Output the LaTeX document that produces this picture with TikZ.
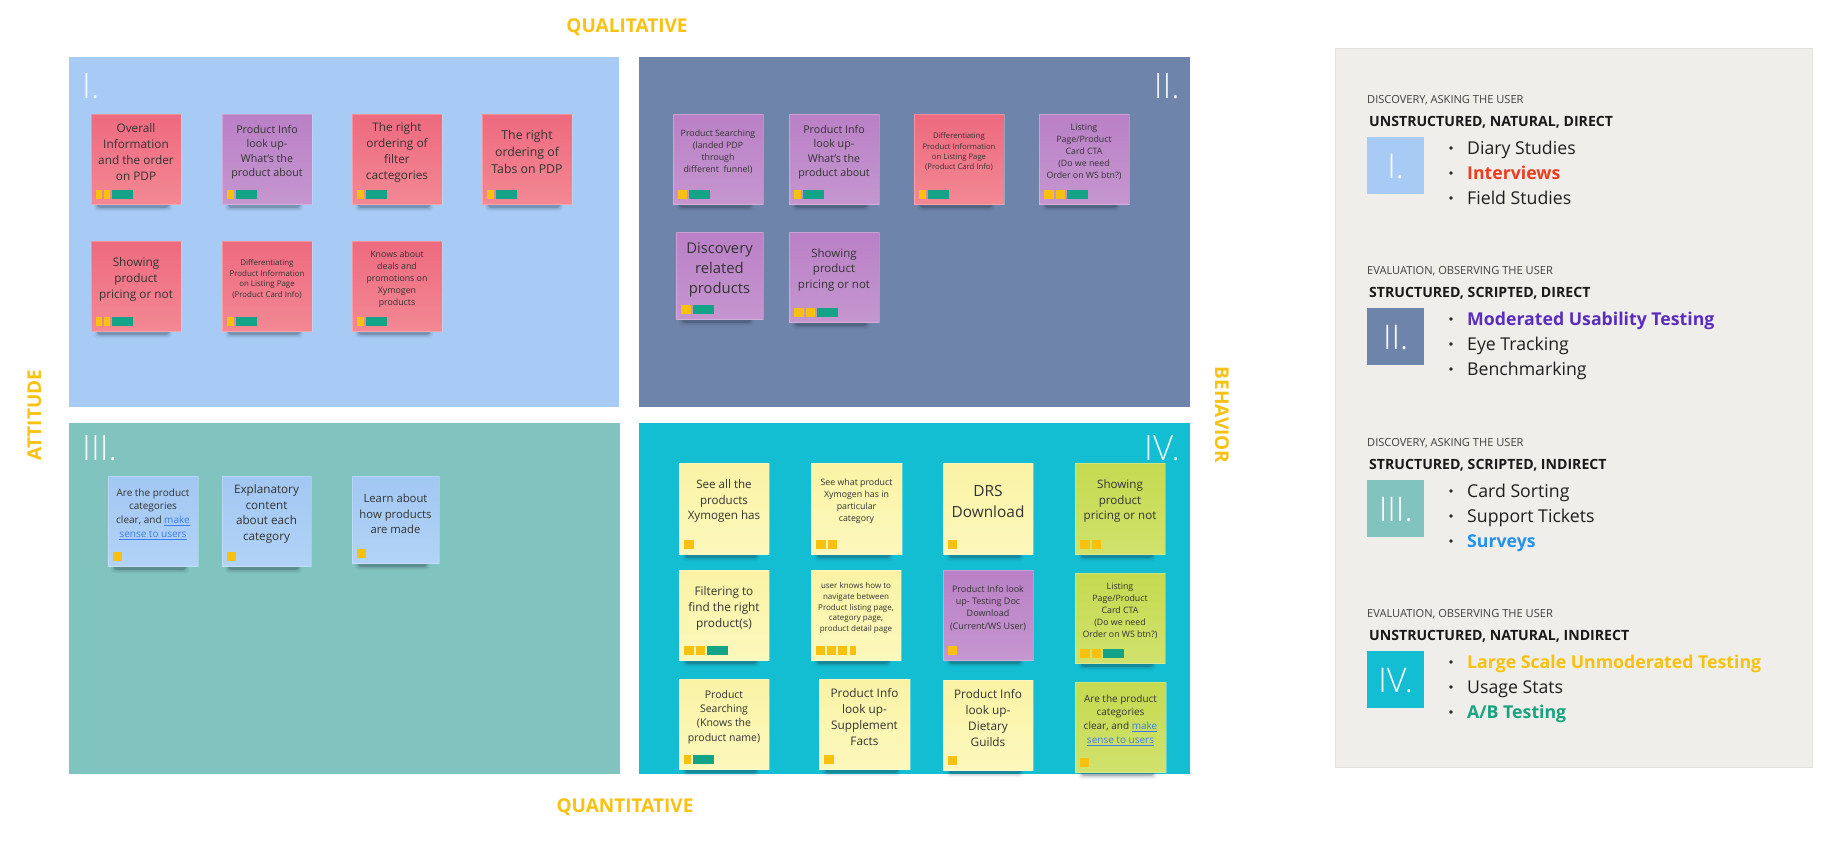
\documentclass[tikz,border=0pt]{standalone}
\usepackage{fontspec}
\setmainfont{Open Sans}
\IfFontExistsTF{Open Sans Light}{\newfontfamily\thinfont{Open Sans Light}}{%
  \IfFontExistsTF{Fira Sans Light}{\newfontfamily\thinfont{Fira Sans Light}}{\newfontfamily\thinfont{Open Sans}}}
\usetikzlibrary{calc}
\definecolor{qone}{HTML}{A7CBF4}
\definecolor{qtwo}{HTML}{6E84AA}
\definecolor{qthree}{HTML}{81C3BE}
\definecolor{qfour}{HTML}{13BED3}
\definecolor{axisyellow}{HTML}{F9C112}
\definecolor{pinktop}{HTML}{EE6A7F}
\definecolor{pinkbot}{HTML}{F38893}
\definecolor{purptop}{HTML}{BA80C6}
\definecolor{purpbot}{HTML}{C596CF}
\definecolor{bluetop}{HTML}{A2C7F2}
\definecolor{bluebot}{HTML}{B2D3F7}
\definecolor{yeltop}{HTML}{FAF3A5}
\definecolor{yelbot}{HTML}{FCF8BC}
\definecolor{grntop}{HTML}{C5DA50}
\definecolor{grnbot}{HTML}{D0E26C}
\definecolor{tagy}{HTML}{F9C10F}
\definecolor{tagg}{HTML}{13A386}
\definecolor{notetext}{HTML}{333333}
\definecolor{linkblue}{HTML}{3F7BF2}
\definecolor{panelc}{HTML}{EFEEEA}
\definecolor{panelline}{HTML}{E2E1DC}
\definecolor{redc}{HTML}{EE3B1F}
\definecolor{purplec}{HTML}{5A2DBF}
\definecolor{bluec}{HTML}{2392EC}
\definecolor{greenc}{HTML}{17A37F}
\definecolor{shadowc}{HTML}{1E2A3A}
\newcommand\lnk[1]{\textcolor{linkblue}{\underline{#1}}}
\newcommand\sticky[9]{%
  \foreach \shs/\sho in {0/0.22,1.5/0.11,3/0.05}{%
    \fill[shadowc, opacity=\sho, rounded corners=3] ({#2+6-\shs},{#3+#5-3}) rectangle ({#2+#4-12+\shs},{#3+#5+4+\shs});}
  \node[stickybox,#6,minimum width=#4pt,minimum height=#5pt] (#1) at (#2,#3) {};
  \node[stickytext,font=\fontsize{#7}{#8}\selectfont] (#1t) at ($(#1.north)+(0,38)$) {#9};
}
\newcommand\tagrow[2]{%
  \gdef\tagx{5}%
  \foreach \tagw/\tagcol in {#2}{%
    \fill[\tagcol] ($(#1.south west)+(\tagx,-5)$) rectangle ++(\tagw,-9);
    \pgfmathsetmacro\tmpx{\tagx+\tagw+2.2}%
    \global\let\tagx\tmpx
  }%
}
\newcommand\keysec[6]{%
  \node[smallhead] (#1s) at (1367,{103+#2}) {#3};
  \node[boldhead] (#1h) at (1369,{126+#2}) {#4};
  \node[keybox, fill=#5] (#1k) at (1367,{137+#2}) {};
  \node[keynum] (#1n) at ($(#1k.north)+(0,41)$) {#6};
}
\newcommand\keyitem[4]{%
  \node[bulletdot] (#1d) at (1451,{#2-6}) {};
  \node[itemtext,#3] (#1i) at (1467,#2) {#4};
}
\begin{document}
\begin{tikzpicture}[x=1pt,y=-1pt,
  quad/.style={anchor=north west, rectangle, inner sep=0, outer sep=0},
  numeral/.style={text=white, font=\thinfont\fontsize{35}{35}\selectfont, inner sep=0, opacity=0.9},
  axislabel/.style={text=axisyellow, font=\bfseries\fontsize{19}{19}\selectfont, inner sep=0, anchor=base},
  stickybox/.style={anchor=north west, rectangle, inner sep=0, outer sep=0, draw=white, draw opacity=0.25, line width=0.8pt},
  stickytext/.style={align=center, text=notetext, inner sep=0},
  pinknote/.style={top color=pinktop, bottom color=pinkbot},
  purpnote/.style={top color=purptop, bottom color=purpbot},
  bluenote/.style={top color=bluetop, bottom color=bluebot},
  yelnote/.style={top color=yeltop, bottom color=yelbot},
  grnnote/.style={top color=grntop, bottom color=grnbot},
  smallhead/.style={anchor=base west, inner sep=0, font=\fontsize{11.1}{12}\selectfont, text=black!75},
  boldhead/.style={anchor=base west, inner sep=0, font=\bfseries\fontsize{14.1}{15}\selectfont, text=black!90},
  keybox/.style={anchor=north west, rectangle, inner sep=0, minimum width=57pt, minimum height=57pt},
  keynum/.style={anchor=base, inner sep=0, text=white, font=\thinfont\fontsize{34}{34}\selectfont},
  bulletdot/.style={circle, fill=black!85, inner sep=0, minimum size=3.8pt},
  itemtext/.style={anchor=base west, inner sep=0, font=\fontsize{17.7}{19}\selectfont, text=black!88},
  itemred/.style={text=redc, font=\bfseries\fontsize{17.7}{19}\selectfont},
  itempurple/.style={text=purplec, font=\bfseries\fontsize{17.7}{19}\selectfont},
  itemblue/.style={text=bluec, font=\bfseries\fontsize{17.7}{19}\selectfont},
  itemyellow/.style={text=tagy, font=\bfseries\fontsize{17.7}{19}\selectfont},
  itemgreen/.style={text=greenc, font=\bfseries\fontsize{17.7}{19}\selectfont}
]
\useasboundingbox (0,0) rectangle (1834,844);
\fill[white] (0,0) rectangle (1834,844);

% quadrants
\node[quad, fill=qone, minimum width=550pt, minimum height=350pt] (q1) at (69,57) {};
\node[quad, fill=qtwo, minimum width=551pt, minimum height=350pt] (q2) at (639,57) {};
\node[quad, fill=qthree, minimum width=551pt, minimum height=351pt] (q3) at (69,423) {};
\node[quad, fill=qfour, minimum width=551pt, minimum height=351pt] (q4) at (639,423) {};

\node[numeral, anchor=base west] (n1) at (82,98) {I.};
\node[numeral, anchor=base east] (n2) at (1180,98) {II.};
\node[numeral, anchor=base west] (n3) at (82,460) {III.};
\node[numeral, anchor=base east] (n4) at (1180,460) {IV.};

% axis labels
\node[axislabel] (lqual) at (627,32) {QUALITATIVE};
\node[axislabel] (lquan) at (625,812) {QUANTITATIVE};
\node[axislabel, rotate=90] (latt) at (41,415) {ATTITUDE};
\node[axislabel, rotate=-90] (lbeh) at (1215,415) {BEHAVIOR};

% quadrant I
\sticky{na}{91}{114}{90}{90}{pinknote}{11.8}{16}{Overall\\Information\\and the order\\on PDP}
\tagrow{na}{6/tagy,6/tagy,21/tagg}
\sticky{nb}{222}{114}{90}{90}{purpnote}{10.7}{14.5}{Product Info\\look up-\\What's the\\product about}
\tagrow{nb}{6.5/tagy,21/tagg}
\sticky{nc}{352}{114}{90}{90}{pinknote}{11.8}{16}{The right\\ordering of\\filter\\cactegories}
\tagrow{nc}{6.5/tagy,21/tagg}
\sticky{nd}{482}{114}{90}{90}{pinknote}{12.3}{16.7}{The right\\ordering of\\Tabs on PDP}
\tagrow{nd}{6.5/tagy,21/tagg}
\sticky{ne}{91}{241}{90}{90}{pinknote}{11.8}{16}{Showing\\product\\pricing or not}
\tagrow{ne}{6/tagy,6/tagy,21/tagg}
\sticky{nf}{222}{241}{90}{90}{pinknote}{7.9}{10.7}{Differentiating\\Product Information\\on Listing Page\\(Product Card Info)}
\tagrow{nf}{6.5/tagy,21/tagg}
\sticky{ng}{352}{241}{90}{90}{pinknote}{8.8}{12}{Knows about\\deals and\\promotions on\\Xymogen\\products}
\tagrow{ng}{6.5/tagy,21/tagg}

% quadrant II
\sticky{nh}{673}{114}{90}{90}{purpnote}{8.8}{12}{Product Searching\\(landed PDP\\through\\different\ \ funnel)}
\tagrow{nh}{9/tagy,21/tagg}
\sticky{ni}{789}{114}{90}{90}{purpnote}{10.7}{14.5}{Product Info\\look up-\\What's the\\product about}
\tagrow{ni}{6.5/tagy,21/tagg}
\sticky{nj}{914}{114}{90}{90}{pinknote}{7.7}{10.4}{Differentiating\\Product Information\\on Listing Page\\(Product Card Info)}
\tagrow{nj}{6.5/tagy,21/tagg}
\sticky{nk}{1039}{114}{90}{90}{purpnote}{8.8}{11.9}{Listing\\Page/Product\\Card CTA\\(Do we need\\Order on WS btn?)}
\tagrow{nk}{9.5/tagy,9/tagy,21/tagg}
\sticky{nl}{676}{232}{87}{87}{purpnote}{14.8}{20.2}{Discovery\\related\\products}
\tagrow{nl}{10/tagy,21/tagg}
\sticky{nm}{789}{232}{90}{90}{purpnote}{11.5}{15.7}{Showing\\product\\pricing or not}
\tagrow{nm}{9.5/tagy,9/tagy,21/tagg}

% quadrant III
\sticky{nn}{108}{476}{90}{90}{bluenote}{10}{13.7}{Are the product\\categories\\clear, and \lnk{make}\\\lnk{sense to users}}
\tagrow{nn}{9/tagy}
\sticky{no}{222}{476}{89}{90}{bluenote}{11.7}{15.9}{Explanatory\\content\\about each\\category}
\tagrow{no}{9/tagy}
\sticky{np}{352}{476}{87}{87}{bluenote}{11.3}{15.3}{Learn about\\how products\\are made}
\tagrow{np}{9/tagy}

% quadrant IV
\sticky{nq}{679}{463}{90}{91}{yelnote}{11.6}{15.8}{See all the\\products\\Xymogen has}
\tagrow{nq}{9.5/tagy}
\sticky{nr}{811}{463}{91}{91}{yelnote}{8.8}{12}{See what product\\Xymogen has in\\particular\\category}
\tagrow{nr}{9.5/tagy,9.5/tagy}
\sticky{ns}{943}{463}{90}{91}{yelnote}{15.4}{21}{DRS\\Download}
\tagrow{ns}{9/tagy}
\sticky{nt}{1075}{463}{90}{91}{grnnote}{11.6}{15.8}{Showing\\product\\pricing or not}
\tagrow{nt}{9.5/tagy,9.5/tagy}
\sticky{nu}{679}{570}{90}{90}{yelnote}{11.8}{16}{Filtering to\\find the right\\product(s)}
\tagrow{nu}{9.5/tagy,9.5/tagy,21/tagg}
\sticky{nv}{811}{570}{90}{90}{yelnote}{8}{10.8}{user knows how to\\navigate between\\Product listing page,\\category page,\\product detail page}
\tagrow{nv}{9/tagy,9/tagy,9/tagy,6/tagy}
\sticky{nw}{943}{570}{90}{90}{purpnote}{9}{12.2}{Product Info look\\up- Testing Doc\\Download\\(Current/WS User)}
\tagrow{nw}{9/tagy}
\sticky{nx}{1075}{573}{90}{90}{grnnote}{8.8}{11.9}{Listing\\Page/Product\\Card CTA\\(Do we need\\Order on WS btn?)}
\tagrow{nx}{9.5/tagy,9.5/tagy,21/tagg}
\sticky{ny}{679}{679}{90}{90}{yelnote}{10.5}{14.2}{Product\\Searching\\(Knows the\\product name)}
\tagrow{ny}{7/tagy,21/tagg}
\sticky{nz}{819}{679}{91}{90}{yelnote}{11.8}{16}{Product Info\\look up-\\Supplement\\Facts}
\tagrow{nz}{9.5/tagy}
\sticky{nA}{943}{680}{90}{90}{yelnote}{11.8}{16}{Product Info\\look up-\\Dietary\\Guilds}
\tagrow{nA}{9/tagy}
\sticky{nB}{1075}{682}{91}{90}{grnnote}{10}{13.7}{Are the product\\categories\\clear, and \lnk{make}\\\lnk{sense to users}}
\tagrow{nB}{9/tagy}

% legend panel
\node[quad, fill=panelc, draw=panelline, minimum width=477pt, minimum height=719pt] (panel) at (1335,48) {};

\keysec{sa}{0}{DISCOVERY, ASKING THE USER}{UNSTRUCTURED, NATURAL, DIRECT}{qone}{I.}
\keyitem{sa1}{154}{}{Diary Studies}
\keyitem{sa2}{179}{itemred}{Interviews}
\keyitem{sa3}{204}{}{Field Studies}

\keysec{sb}{171}{EVALUATION, OBSERVING THE USER}{STRUCTURED, SCRIPTED, DIRECT}{qtwo}{II.}
\keyitem{sb1}{325}{itempurple}{Moderated Usability Testing}
\keyitem{sb2}{350}{}{Eye Tracking}
\keyitem{sb3}{375}{}{Benchmarking}

\keysec{sc}{343}{DISCOVERY, ASKING THE USER}{STRUCTURED, SCRIPTED, INDIRECT}{qthree}{III.}
\keyitem{sc1}{497}{}{Card Sorting}
\keyitem{sc2}{522}{}{Support Tickets}
\keyitem{sc3}{547}{itemblue}{Surveys}

\keysec{sd}{514}{EVALUATION, OBSERVING THE USER}{UNSTRUCTURED, NATURAL, INDIRECT}{qfour}{IV.}
\keyitem{sd1}{668}{itemyellow}{Large Scale Unmoderated Testing}
\keyitem{sd2}{693}{}{Usage Stats}
\keyitem{sd3}{718}{itemgreen}{A/B Testing}
\end{tikzpicture}
\end{document}
